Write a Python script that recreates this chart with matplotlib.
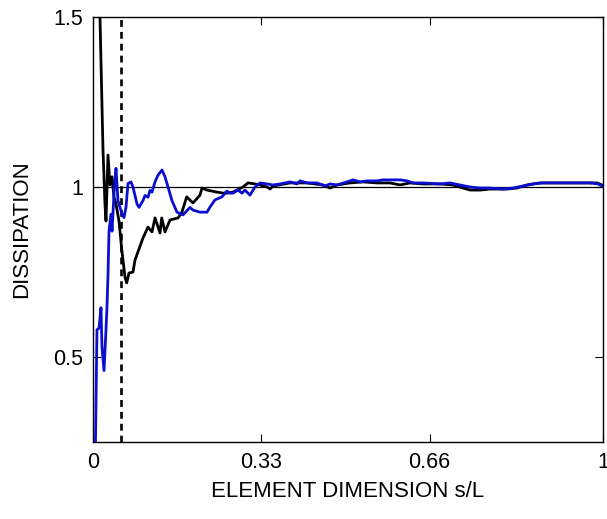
import matplotlib
matplotlib.use("Agg")
import matplotlib.pyplot as plt

plt.rcParams['font.family'] = ['Liberation Sans', 'DejaVu Sans']

# Element dimension s/L and normalised dissipation for the two runs
black_s = [0.0108, 0.0137, 0.0196, 0.0235, 0.0255, 0.0294, 0.0333, 0.0373, 0.0412,
           0.0451, 0.0510, 0.0561, 0.0627, 0.0660, 0.0706, 0.0784, 0.0824, 0.0980,
           0.1078, 0.1157, 0.1216, 0.1314, 0.1347, 0.1412, 0.1510, 0.1667, 0.1739,
           0.1837, 0.1961, 0.2098, 0.2137, 0.2235, 0.2431, 0.2549, 0.2627, 0.2745,
           0.2941, 0.3039, 0.3176, 0.3275, 0.3412, 0.3471, 0.3529, 0.3863, 0.4196,
           0.4510, 0.4647, 0.4784, 0.5039, 0.5294, 0.5569, 0.5824, 0.6020, 0.6216,
           0.6471, 0.6804, 0.7059, 0.7255, 0.7392, 0.7588, 0.7784, 0.8118, 0.8314,
           0.8510, 0.8765, 0.8961, 0.9216, 0.9608, 0.9882, 0.9980]
black_d = [1.70, 1.50, 1.11, 0.95, 0.90, 1.094, 1.006, 1.03, 0.97,
           0.95, 0.90, 0.82, 0.735, 0.718, 0.747, 0.75, 0.785, 0.85,
           0.882, 0.868, 0.909, 0.865, 0.909, 0.868, 0.903, 0.909, 0.924,
           0.971, 0.953, 0.976, 0.997, 0.991, 0.985, 0.982, 0.982, 0.985,
           1.000, 1.012, 1.009, 1.006, 1.000, 0.994, 1.003, 1.012, 1.012,
           1.006, 0.997, 1.006, 1.012, 1.015, 1.012, 1.012, 1.006, 1.012,
           1.009, 1.009, 1.006, 0.997, 0.991, 0.991, 0.994, 0.994, 0.997,
           1.006, 1.012, 1.012, 1.012, 1.012, 1.012, 1.006]

blue_s = [0.0040, 0.0078, 0.0118, 0.0157, 0.0176, 0.0216, 0.0255, 0.0275, 0.0294,
          0.0314, 0.0353, 0.0373, 0.0412, 0.0431, 0.0451, 0.0490, 0.0569, 0.0608,
          0.0647, 0.0686, 0.0745, 0.0784, 0.0863, 0.0902, 0.0980, 0.1020, 0.1078,
          0.1118, 0.1157, 0.1216, 0.1275, 0.1353, 0.1412, 0.1471, 0.1549, 0.1647,
          0.1765, 0.1902, 0.1961, 0.2098, 0.2235, 0.2294, 0.2392, 0.2529, 0.2588,
          0.2627, 0.2686, 0.2745, 0.2843, 0.2922, 0.2980, 0.3078, 0.3176, 0.3275,
          0.3412, 0.3529, 0.3667, 0.3863, 0.4000, 0.4059, 0.4196, 0.4392, 0.4549,
          0.4647, 0.4784, 0.4980, 0.5098, 0.5235, 0.5373, 0.5569, 0.5686, 0.5882,
          0.6020, 0.6157, 0.6275, 0.6471, 0.6804, 0.7000, 0.7196, 0.7392, 0.7588,
          0.7784, 0.8039, 0.8235, 0.8431, 0.8627, 0.8824, 0.9098, 0.9412, 0.9745,
          0.9902, 0.9980]
blue_d = [0.15, 0.58, 0.585, 0.645, 0.53, 0.46, 0.58, 0.65, 0.74,
          0.87, 0.92, 0.87, 0.98, 1.02, 1.055, 0.96, 0.92, 0.91,
          0.94, 1.01, 1.015, 1.000, 0.95, 0.94, 0.96, 0.975, 0.97,
          0.99, 0.985, 1.015, 1.035, 1.05, 1.03, 1.00, 0.96, 0.926,
          0.918, 0.94, 0.932, 0.926, 0.926, 0.941, 0.962, 0.971, 0.982,
          0.988, 0.982, 0.982, 0.991, 0.982, 0.991, 0.976, 1.000, 1.012,
          1.009, 1.006, 1.009, 1.015, 1.009, 1.018, 1.012, 1.012, 1.003,
          1.009, 1.006, 1.015, 1.021, 1.015, 1.018, 1.018, 1.021, 1.021,
          1.021, 1.018, 1.012, 1.012, 1.009, 1.012, 1.006, 1.000, 0.997,
          0.997, 0.994, 0.997, 1.003, 1.009, 1.012, 1.012, 1.012, 1.012,
          1.009, 1.003]

reference_level = 1.0
mesh_limit = 0.055

x_ticks = [0, 0.33, 0.66, 1]
x_tick_labels = ['0', '0.33', '0.66', '1']
y_ticks = [0.5, 1, 1.5]
y_tick_labels = ['0.5', '1', '1.5']

fig = plt.figure(figsize=(6.07, 5.19), dpi=100)
ax = fig.add_axes([0.1532, 0.1484, 0.8402, 0.8188])

ax.axhline(reference_level, color='black', lw=0.9, zorder=1)
ax.axvline(mesh_limit, color='black', lw=1.9, ls=(0, (2.6, 1.9)), zorder=2)
ax.plot(black_s, black_d, color='black', lw=2.0, zorder=3)
ax.plot(blue_s, blue_d, color='#0a0fd0', lw=2.0, zorder=4)

ax.set_xlim(0, 1)
ax.set_ylim(0.25, 1.5)
ax.set_xticks(x_ticks)
ax.set_xticklabels(x_tick_labels)
ax.set_yticks(y_ticks)
ax.set_yticklabels(y_tick_labels)
ax.tick_params(direction='in', length=6, width=0.8, top=True, right=True,
               labelsize=15.5, pad=7)
for sp in ax.spines.values():
    sp.set_linewidth(1.0)

ax.set_xlabel('ELEMENT DIMENSION s/L', fontsize=16, labelpad=6)
ax.set_ylabel('DISSIPATION', fontsize=16, labelpad=15.5)

fig.savefig('out.png', dpi=100)
